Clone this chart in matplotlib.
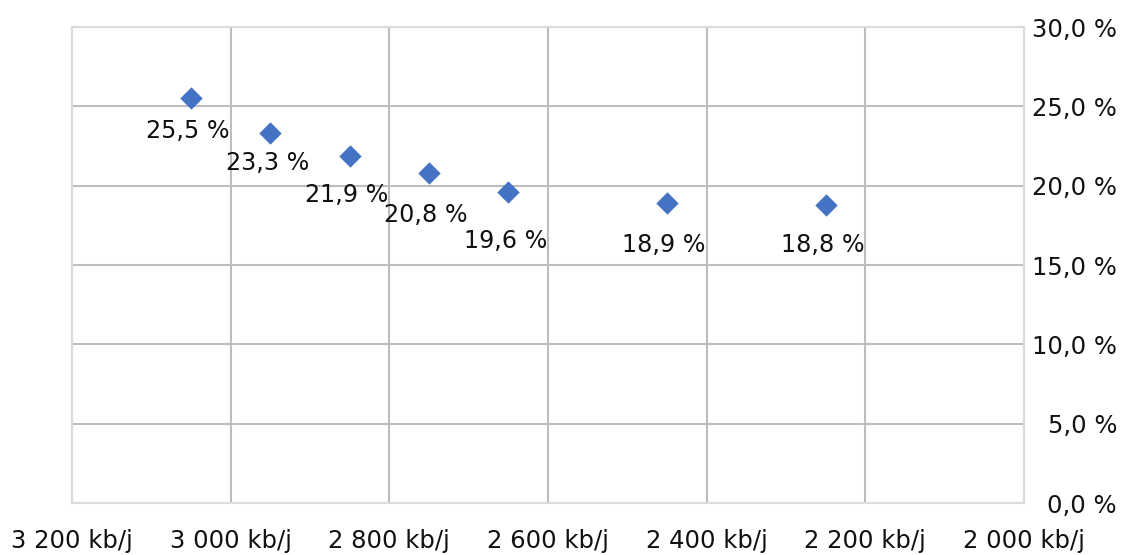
import matplotlib.pyplot as plt
from matplotlib.ticker import FuncFormatter

# Production (kb/j) vs. share (%)
production = [3050, 2950, 2850, 2750, 2650, 2450, 2250]
share = [25.5, 23.3, 21.9, 20.8, 19.6, 18.9, 18.8]
x_ticks = [3200, 3000, 2800, 2600, 2400, 2200, 2000]
y_ticks = [0, 5, 10, 15, 20, 25, 30]

# vertical offset of each data label below its marker (pixels)
label_dy = [-33, -30, -39, -42, -49, -42, -40]

plt.rcParams['font.family'] = ['DejaVu Sans']

fig = plt.figure(figsize=(11.39, 5.55), dpi=100)
ax = fig.add_axes([72 / 1139, 1 - 503 / 555, (1024 - 72) / 1139, (503 - 27) / 555])

ax.scatter(production, share, marker='D', s=130, color='#4472C4', zorder=3, linewidths=0)

for x, y, dy in zip(production, share, label_dy):
    ax.annotate(f"{y:.1f} %".replace('.', ','), (x, y), xytext=(-2, dy * 0.72),
                textcoords='offset points', ha='center', va='center',
                fontsize=17.2, color='#111111')

ax.set_xlim(3200, 2000)
ax.set_ylim(0, 30)
ax.set_xticks(x_ticks)
ax.set_yticks(y_ticks)
ax.xaxis.set_major_formatter(FuncFormatter(lambda v, p: f"{int(v):,} kb/j".replace(',', ' ')))
ax.yaxis.set_major_formatter(FuncFormatter(lambda v, p: f"{v:.1f} %".replace('.', ',')))
ax.yaxis.tick_right()
ax.tick_params(axis='both', length=0, labelsize=17.5, colors='#111111')
ax.tick_params(axis='x', pad=19)
ax.tick_params(axis='y', pad=67)
for lbl in ax.get_yticklabels():
    lbl.set_horizontalalignment('right')

ax.grid(True, color='#bdbdbd', linewidth=1.5)
ax.set_axisbelow(True)
for spine in ax.spines.values():
    spine.set_color('#dcdcdc')
    spine.set_linewidth(1.5)

fig.savefig('out.png', dpi=100)
